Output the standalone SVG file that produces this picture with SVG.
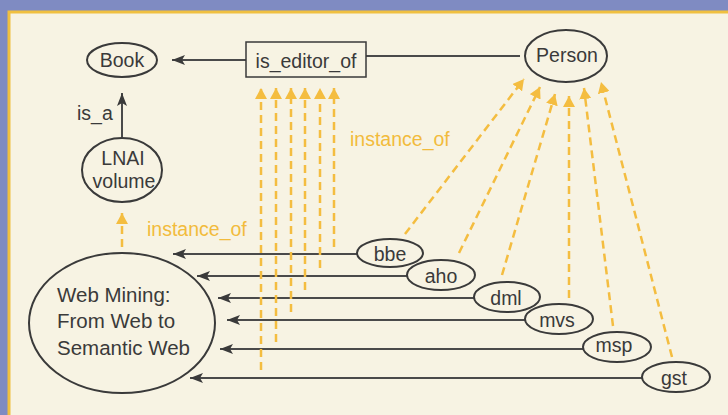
<svg xmlns="http://www.w3.org/2000/svg" width="728" height="415" viewBox="0 0 728 415">
<style>
text{font-family:"Liberation Sans",Arial,sans-serif;font-size:19.5px;fill:#3a3a3a}
.w{font-size:20.5px}
.o{fill:#f2bb3c}
.n{fill:none;stroke:#3a3a3a;stroke-width:2}
.d{stroke:#4a4a4a;stroke-width:2;fill:none}
.y{stroke:#f4bd40;stroke-width:2.5;stroke-dasharray:8 5;fill:none}
</style>
<defs>
<marker id="ad" markerUnits="userSpaceOnUse" markerWidth="14" markerHeight="10" refX="13" refY="5" orient="auto"><path d="M0,0 L13,5 L0,10 L3,5 Z" fill="#3a3a3a"/></marker>
<marker id="ay" markerUnits="userSpaceOnUse" markerWidth="12" markerHeight="12" refX="11" refY="6" orient="auto"><path d="M0,0 L11,6 L0,12 Z" fill="#f4bd40"/></marker>
</defs>
<rect width="728" height="415" fill="#7f8bc2"/>
<rect x="9" y="12" width="730" height="410" fill="#f7f3e3" stroke="#f0c040" stroke-width="3"/>
<g id="connectors">
<line class="d" x1="246" y1="60" x2="172" y2="60" marker-end="url(#ad)"/>
<line class="d" x1="520" y1="56" x2="366" y2="56"/>
<line class="d" x1="122" y1="137" x2="122" y2="93" marker-end="url(#ad)"/>
<line class="y" x1="122" y1="247" x2="122" y2="213" marker-end="url(#ay)"/>
<line class="d" x1="357" y1="254" x2="173" y2="254" marker-end="url(#ad)"/>
<line class="d" x1="407" y1="276" x2="197" y2="276" marker-end="url(#ad)"/>
<line class="d" x1="474" y1="298" x2="218" y2="298" marker-end="url(#ad)"/>
<line class="d" x1="525" y1="320" x2="227" y2="320" marker-end="url(#ad)"/>
<line class="d" x1="583" y1="349" x2="220" y2="349" marker-end="url(#ad)"/>
<line class="d" x1="642" y1="378" x2="190" y2="378" marker-end="url(#ad)"/>
<line class="y" x1="261" y1="370" x2="261" y2="88" marker-end="url(#ay)"/>
<line class="y" x1="276" y1="342" x2="276" y2="88" marker-end="url(#ay)"/>
<line class="y" x1="291" y1="312" x2="291" y2="88" marker-end="url(#ay)"/>
<line class="y" x1="305" y1="290" x2="305" y2="88" marker-end="url(#ay)"/>
<line class="y" x1="320" y1="268" x2="320" y2="88" marker-end="url(#ay)"/>
<line class="y" x1="334" y1="247" x2="334" y2="88" marker-end="url(#ay)"/>
<line class="y" x1="405" y1="234" x2="524" y2="79" marker-end="url(#ay)"/>
<line class="y" x1="459" y1="253" x2="540" y2="87" marker-end="url(#ay)"/>
<line class="y" x1="502" y1="275" x2="555" y2="94" marker-end="url(#ay)"/>
<line class="y" x1="569" y1="298" x2="569" y2="96" marker-end="url(#ay)"/>
<line class="y" x1="613" y1="326" x2="584" y2="88" marker-end="url(#ay)"/>
<line class="y" x1="672" y1="357" x2="601" y2="82" marker-end="url(#ay)"/>
<text x="77" y="120">is_a</text>
<text class="o" x="147" y="236">instance_of</text>
<text class="o" x="350" y="146">instance_of</text>
</g>
<g id="book"><ellipse class="n" cx="122" cy="60" rx="35" ry="17"/><text x="122" y="67" text-anchor="middle">Book</text></g>
<g id="is_editor_of"><rect x="246" y="42" width="120" height="35" fill="none" stroke="#3a3a3a" stroke-width="1.5"/><text x="306" y="68" text-anchor="middle">is_editor_of</text></g>
<g id="person"><ellipse class="n" cx="566" cy="56" rx="41" ry="26"/><text x="567" y="62" text-anchor="middle">Person</text></g>
<g id="lnai"><ellipse class="n" cx="122" cy="170" rx="40" ry="32"/><text x="123" y="165" text-anchor="middle">LNAI</text><text x="124" y="188" text-anchor="middle">volume</text></g>
<g id="webmining"><ellipse class="n" cx="122" cy="323" rx="93" ry="70"/><text class="w" x="57" y="302">Web Mining:</text><text class="w" x="57" y="328">From Web to</text><text class="w" x="57" y="355">Semantic Web</text></g>
<g id="bbe"><ellipse class="n" cx="390" cy="253" rx="33" ry="14"/><text x="390" y="261" text-anchor="middle">bbe</text></g>
<g id="aho"><ellipse class="n" cx="441" cy="275" rx="34" ry="15"/><text x="441" y="283" text-anchor="middle">aho</text></g>
<g id="dml"><ellipse class="n" cx="507" cy="297" rx="33" ry="15"/><text x="506" y="305" text-anchor="middle">dml</text></g>
<g id="mvs"><ellipse class="n" cx="559" cy="319" rx="34" ry="15"/><text x="557" y="327" text-anchor="middle">mvs</text></g>
<g id="msp"><ellipse class="n" cx="617" cy="347" rx="34" ry="15"/><text x="614" y="352" text-anchor="middle">msp</text></g>
<g id="gst"><ellipse class="n" cx="676" cy="377" rx="34" ry="15"/><text x="674" y="385" text-anchor="middle">gst</text></g>
</svg>
